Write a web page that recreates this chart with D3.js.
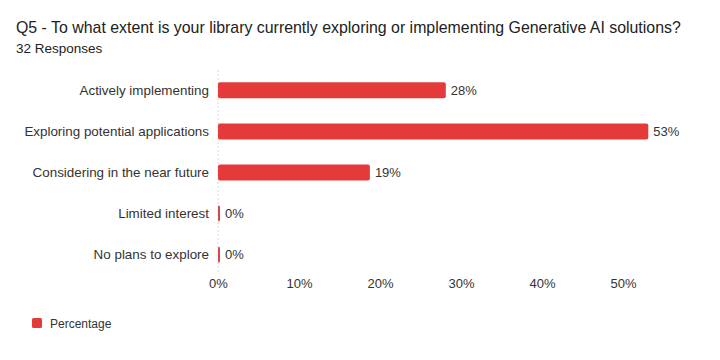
<!DOCTYPE html>
<html>
<head>
<meta charset="utf-8">
<script src="https://cdn.jsdelivr.net/npm/d3@7"></script>
<style>
  body { margin: 0; background: #fff; }
  text { font-family: "Liberation Sans", Arial, sans-serif; }
</style>
</head>
<body>
<div id="chart"></div>
<script>
//Chart data
var categories = ["Actively implementing", "Exploring potential applications", "Considering in the near future", "Limited interest", "No plans to explore"]
var percentages = [28.125, 53.125, 18.75, 0, 0]
var valueLabels = ["28%", "53%", "19%", "0%", "0%"]
var xTicks = [0, 10, 20, 30, 40, 50]
var seriesName = "Percentage"

var width = 720
var height = 360
var margin = {top: 70, left: 218, right: 47, bottom: 95}

var svg = d3.select("#chart")
  .append("svg")
  .attr("width", width)
  .attr("height", height)

//Title and subtitle
svg.append("text")
  .attr("x", 16).attr("y", 33)
  .attr("font-size", "15.9px")
  .attr("font-family", "Roboto, sans-serif")
  .attr("fill", "#222")
  .text("Q5 - To what extent is your library currently exploring or implementing Generative AI solutions?")

svg.append("text")
  .attr("x", 16).attr("y", 53)
  .attr("font-size", "13.5px")
  .attr("font-family", "Roboto, sans-serif")
  .attr("fill", "#222")
  .text("32 Responses")

//Scales
var x = d3.scaleLinear()
  .domain([0, 50])
  .range([margin.left, margin.left + 405])

var y = d3.scaleBand()
  .domain(categories)
  .range([margin.top, margin.top + 205])
  .paddingInner(0.61)
  .paddingOuter(0.3)

//Dotted zero line
svg.append("line")
  .attr("x1", x(0)).attr("x2", x(0))
  .attr("y1", margin.top).attr("y2", 272)
  .attr("stroke", "#d8d8d8")
  .attr("stroke-dasharray", "2,2")

//Axes
var xAxis = d3.axisBottom(x)
  .tickValues(xTicks)
  .tickFormat(function(d){ return d + "%" })
  .tickSize(0)
  .tickPadding(0)

var gx = svg.append("g")
  .attr("transform", "translate(0,279)")
  .call(xAxis)
gx.select(".domain").remove()
gx.selectAll("text")
  .attr("font-size", "13px")
  .attr("fill", "#333")
  .attr("font-family", "'Liberation Sans', Arial, sans-serif")

var yAxis = d3.axisLeft(y).tickSize(0).tickPadding(9)
var gy = svg.append("g")
  .attr("transform", "translate(" + x(0) + ",0)")
  .call(yAxis)
gy.select(".domain").remove()
gy.selectAll("text")
  .attr("font-size", "13.4px")
  .attr("fill", "#333")
  .attr("font-family", "'Liberation Sans', Arial, sans-serif")

//Bars
var data = categories.map(function(c, i){ return {cat: c, val: percentages[i], label: valueLabels[i]} })

svg.selectAll(".bar")
  .data(data)
  .enter()
  .append("rect")
  .attr("class", "bar")
  .attr("x", x(0))
  .attr("y", function(d){ return y(d.cat) })
  .attr("height", y.bandwidth())
  .attr("width", function(d){ return Math.max(x(d.val) - x(0), 2) })
  .attr("rx", 2)
  .attr("fill", function(d){ return d.val > 0 ? "#e53a3a" : "#d04a4a" })

svg.selectAll(".val")
  .data(data)
  .enter()
  .append("text")
  .attr("class", "val")
  .attr("x", function(d){ return Math.max(x(d.val), x(0) + 2) + 5 })
  .attr("y", function(d){ return y(d.cat) + y.bandwidth() / 2 })
  .attr("dy", "0.35em")
  .attr("font-size", "13px")
  .attr("fill", "#333")
  .text(function(d){ return d.label })

//Legend
svg.append("rect")
  .attr("x", 32).attr("y", 318)
  .attr("width", 10).attr("height", 10)
  .attr("rx", 1.5)
  .attr("fill", "#e53a3a")

svg.append("text")
  .attr("x", 50).attr("y", 328)
  .attr("font-size", "12px")
  .attr("fill", "#333")
  .text(seriesName)
</script>
</body>
</html>
